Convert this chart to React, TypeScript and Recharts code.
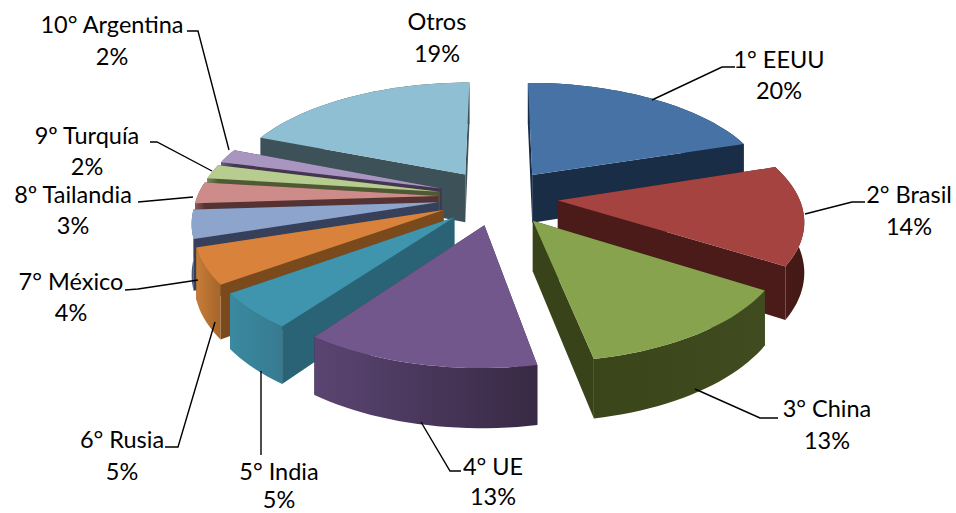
import React from "react";
import { PieChart, Pie } from "recharts";

const categories = ["1° EEUU", "2° Brasil", "3° China", "4° UE", "5° India", "6° Rusia", "7° México", "8º Tailandia", "9º Turquía", "10° Argentina", "Otros"];
const shares = [20, 14, 13, 13, 5, 5, 4, 3, 2, 2, 19];

const topColors = ["#4672a6", "#a54340", "#87a34d", "#71578c", "#3f94ae", "#d9823c", "#8da4cc", "#cd8c8a", "#b7cc8f", "#a896c0", "#8fbfd2"];
const cutColors = ["#1a2d46", "#4a1b18", "#384319", "#3a2b4a", "#2a6376", "#7a4a1c", "#36405a", "#553333", "#4f5a35", "#443650", "#3d5158"];
const rimLeft = ["#1a2d46", "#4a1b18", "#3a4519", "#5a4572", "#3a8aa0", "#c87c38", "#5a6c8c", "#8a5a58", "#78875a", "#6a5a80", "#3d5158"];
const rimRight = ["#1a2d46", "#431815", "#404c20", "#382944", "#377a90", "#a5652a", "#36405a", "#553333", "#4f5a35", "#443650", "#3d5158"];

// Text layout: [centre x, first line baseline y, second line baseline y]
const labelAt: number[][] = [
  [779, 68, 99], [909, 203, 235], [827, 417, 449], [493, 475, 505], [279, 480, 508],
  [122, 448, 480], [71, 290, 321], [73, 203, 234], [87, 144, 175], [112, 33, 65], [437, 30, 62],
];
// Leader polylines, label side first
const leaders: number[][][] = [
  [[735, 67], [722, 67], [652, 100]],
  [[865, 202], [852, 202], [805, 214]],
  [[778, 418], [760, 418], [695, 389]],
  [[461, 471], [450, 471], [421, 422]],
  [[261, 455], [261, 371]],
  [[165, 447], [178, 447], [215, 322]],
  [[125, 290], [138, 289], [198, 280]],
  [[138, 202], [193, 197]],
  [[150, 142], [157, 142], [212, 171]],
  [[187, 31], [198, 31], [229, 150]],
  [],
];

const rows = categories.map((name, idx) => ({ name, value: shares[idx], idx }));
const frontRows = rows;
const backRows = [...rows].reverse();
const FRONT = 4; // first four slices are painted last

const EXPLODE = 60;
const PERSP = 0.00062;
const TILT = 0.465;
const DEPTH = 49;
const RAD = Math.PI / 180;

function Slice(props: any) {
  const idx = props.payload?.idx ?? props.idx;
  const { cx, cy, outerRadius: R, startAngle, endAngle, paintFront } = props;
  const isFront = idx < FRONT;
  if (isFront !== paintFront) return <g />;
  const a = 90 - Math.max(startAngle, endAngle);
  const b = 90 - Math.min(startAngle, endAngle);
  const m = ((a + b) / 2) * RAD;
  const project = (deg: number, r: number, z: number) => {
    const t = deg * RAD;
    const X = r * Math.sin(t) + EXPLODE * Math.sin(m);
    const D = r * Math.cos(t) + EXPLODE * Math.cos(m);
    const s = 1 / (1 + PERSP * D);
    return [cx + X * s, cy - D * TILT * s + z * s];
  };
  const arc = (z: number) => {
    const pts: number[][] = [];
    const n = Math.max(2, Math.ceil((b - a) / 2));
    for (let i = 0; i <= n; i++) pts.push(project(a + ((b - a) * i) / n, R, z));
    return pts;
  };
  const d = (pts: number[][]) => "M" + pts.map((p) => `${p[0].toFixed(1)},${p[1].toFixed(1)}`).join("L") + "Z";
  const apexTop = project(0, 0, 0);
  const apexBot = project(0, 0, DEPTH);
  const top = arc(0);
  const bot = arc(DEPTH);
  const gid = `rim-${idx}`;
  return (
    <g>
      <defs>
        <linearGradient id={gid} x1="0" y1="0" x2="1" y2="0">
          <stop offset="0" stopColor={rimLeft[idx]} />
          <stop offset="1" stopColor={rimRight[idx]} />
        </linearGradient>
      </defs>
      <path d={d([apexTop, top[0], bot[0], apexBot])} fill={cutColors[idx]} />
      <path d={d([apexTop, top[top.length - 1], bot[bot.length - 1], apexBot])} fill={cutColors[idx]} />
      <path d={d([...top, ...[...bot].reverse()])} fill={`url(#${gid})`} />
      <path d={d([apexTop, ...top])} fill={topColors[idx]} />
    </g>
  );
}

function SliceLabel(props: any) {
  const idx = props.payload?.idx ?? props.idx;
  const [x, y1, y2] = labelAt[idx];
  const line = leaders[idx];
  const font = "Lato, 'Open Sans', sans-serif";
  return (
    <g>
      {line.length > 0 && (
        <polyline points={line.map((p) => p.join(",")).join(" ")} fill="none" stroke="#000" strokeWidth={1.4} />
      )}
      <text x={x} y={y1} textAnchor="middle" fontFamily={font} fontSize={23.5} fill="#000">{categories[idx]}</text>
      <text x={x} y={y2} textAnchor="middle" fontFamily={font} fontSize={23.5} fill="#000">{`${shares[idx]}%`}</text>
    </g>
  );
}

export default function App() {
  return (
    <div style={{ position: "absolute", left: 0, top: 0, width: 956, height: 513, background: "#fff" }}>
      <PieChart width={956} height={513} margin={{ top: 0, right: 0, bottom: 0, left: 0 }}>
        <Pie
          data={backRows}
          dataKey="value"
          nameKey="name"
          cx={498}
          cy={197}
          outerRadius={241}
          startAngle={90}
          endAngle={450}
          stroke="none"
          label={false}
          labelLine={false}
          isAnimationActive={false}
          shape={(p: any) => <Slice {...p} paintFront={false} />}
        />
        <Pie
          data={frontRows}
          dataKey="value"
          nameKey="name"
          cx={498}
          cy={197}
          outerRadius={241}
          startAngle={90}
          endAngle={-270}
          stroke="none"
          labelLine={false}
          label={(p: any) => <SliceLabel {...p} />}
          isAnimationActive={false}
          shape={(p: any) => <Slice {...p} paintFront={true} />}
        />
      </PieChart>
    </div>
  );
}
